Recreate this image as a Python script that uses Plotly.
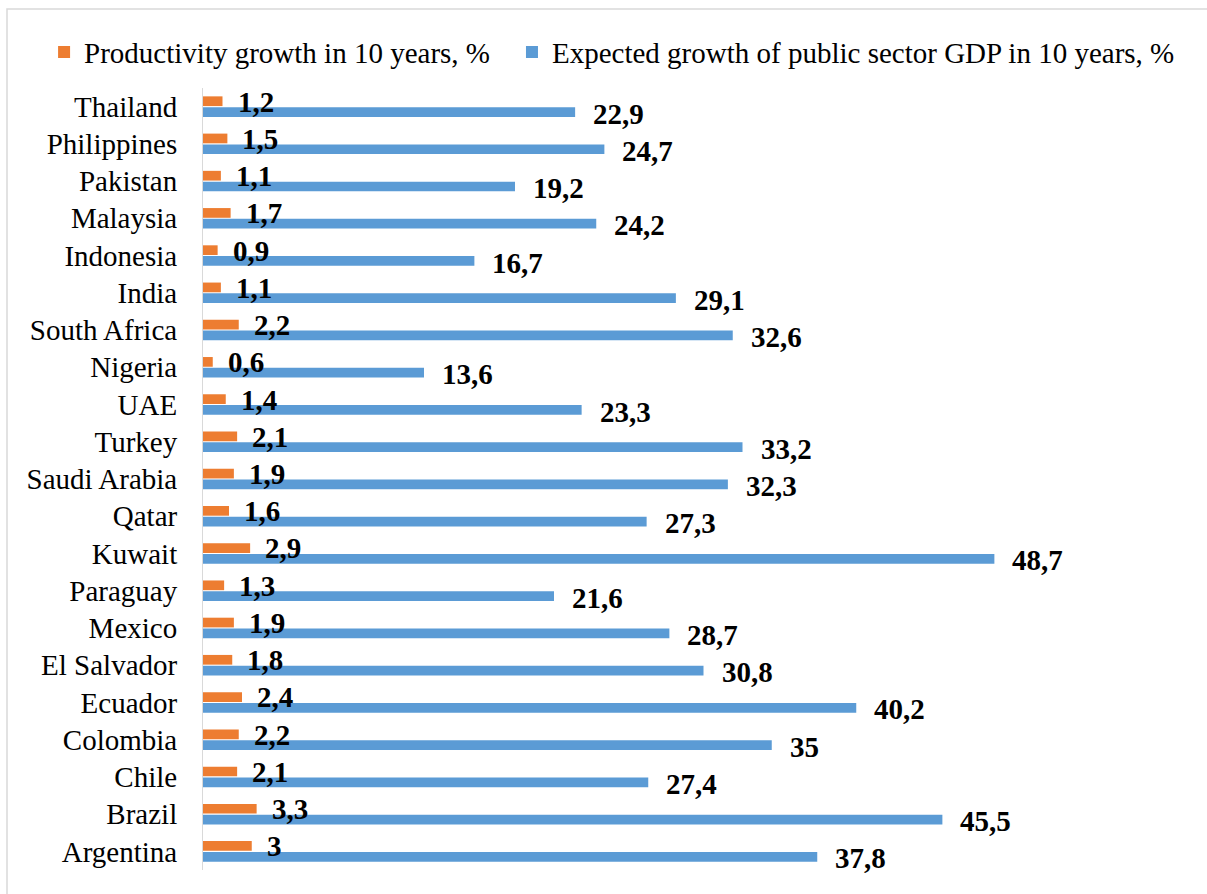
import plotly.graph_objects as go

countries = ["Thailand", "Philippines", "Pakistan", "Malaysia", "Indonesia", "India",
             "South Africa", "Nigeria", "UAE", "Turkey", "Saudi Arabia", "Qatar", "Kuwait",
             "Paraguay", "Mexico", "El Salvador", "Ecuador", "Colombia", "Chile", "Brazil",
             "Argentina"]
productivity = [1.2, 1.5, 1.1, 1.7, 0.9, 1.1, 2.2, 0.6, 1.4, 2.1, 1.9, 1.6, 2.9,
                1.3, 1.9, 1.8, 2.4, 2.2, 2.1, 3.3, 3.0]
gdp_growth = [22.9, 24.7, 19.2, 24.2, 16.7, 29.1, 32.6, 13.6, 23.3, 33.2, 32.3, 27.3, 48.7,
              21.6, 28.7, 30.8, 40.2, 35.0, 27.4, 45.5, 37.8]
series_names = ["Productivity growth in 10 years, %",
                "Expected growth of public sector GDP in 10 years, %"]

ORANGE = "#ED7D31"
BLUE = "#5B9BD5"
FONT = "Liberation Serif"


def fmt(v):
    return ("%g" % v).replace(".", ",")


fig = go.Figure()
fig.add_trace(go.Bar(y=countries, x=productivity, orientation="h", name=series_names[0],
                     marker=dict(color=ORANGE, line=dict(width=0)), legend="legend"))
fig.add_trace(go.Bar(y=countries, x=gdp_growth, orientation="h", name=series_names[1],
                     marker=dict(color=BLUE, line=dict(width=0)), legend="legend2"))

annotations = []
for c, v in zip(countries, productivity):
    annotations.append(dict(x=v, y=c, xref="x", yref="y", text=fmt(v), showarrow=False,
                            xanchor="left", yanchor="middle", xshift=13, yshift=5,
                            font=dict(family=FONT, size=29, color="#000000", weight="bold")))
for c, v in zip(countries, gdp_growth):
    annotations.append(dict(x=v, y=c, xref="x", yref="y", text=fmt(v), showarrow=False,
                            xanchor="left", yanchor="middle", xshift=16, yshift=-7,
                            font=dict(family=FONT, size=29, color="#000000", weight="bold")))

legend_common = dict(orientation="h", yanchor="middle", y=1.046,
                     font=dict(family=FONT, size=29, color="#000000"),
                     itemclick=False, bgcolor="rgba(0,0,0,0)")

n = len(countries)

fig.update_layout(
    width=1207, height=894,
    margin=dict(l=203, r=29, t=88, b=24, autoexpand=False),
    paper_bgcolor="white", plot_bgcolor="white",
    barmode="group", bargap=0.42, bargroupgap=0.1,
    font=dict(family=FONT, size=29, color="#000000"),
    showlegend=True,
    legend=dict(x=-0.163, xanchor="left", **legend_common),
    legend2=dict(x=0.3169, xanchor="left", **legend_common),
    xaxis=dict(range=[0, 60], showgrid=False, showticklabels=False, zeroline=False,
               showline=False, ticks="", automargin=False),
    yaxis=dict(range=[n - 0.5, -0.5], autorange=False, showgrid=False, showline=True,
               linecolor="#d9d9d9", linewidth=1, ticks="", ticklabelstandoff=19,
               automargin=False, tickfont=dict(family=FONT, size=29, color="#000000")),
    annotations=annotations,
    shapes=[dict(type="rect", xref="paper", yref="paper",
                 x0=(7 - 203) / 975, x1=(1215 - 203) / 975,
                 y0=(870 - 900) / 782, y1=(870 - 9) / 782,
                 line=dict(color="#d9d9d9", width=1.5), fillcolor="rgba(0,0,0,0)", layer="below")],
)

fig.write_html("out.html", config={"displayModeBar": False},
               post_script="document.body.style.margin='0';document.body.style.overflow='hidden';")
